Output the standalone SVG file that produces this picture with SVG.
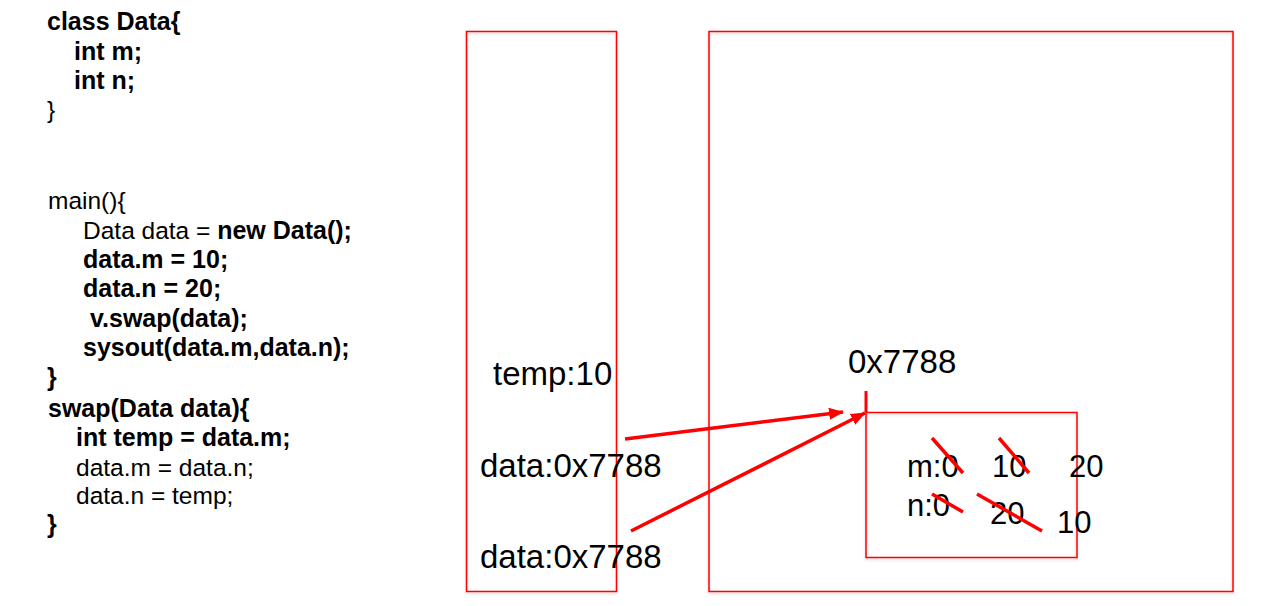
<svg xmlns="http://www.w3.org/2000/svg" width="1265" height="606" viewBox="0 0 1265 606">
<style>
.code{font-family:"Liberation Sans",Arial,sans-serif;font-size:24.5px;fill:#000}
.b{font-weight:bold;font-size:25px}
.lbl{font-family:"Liberation Sans",Arial,sans-serif;font-size:33px;fill:#000}
.val{font-family:"Liberation Sans",Arial,sans-serif;font-size:31px;fill:#000}
.box{fill:none;stroke:#ff0000;stroke-width:1.5}
.arr{stroke:#ff0000;stroke-width:3.5;fill:none}
.strike{stroke:#ff0000;stroke-width:3.5;fill:none}
</style>
<defs>
<marker id="ah" markerUnits="userSpaceOnUse" markerWidth="16" markerHeight="14" refX="14" refY="6" orient="auto">
<path d="M0,0 L15,6 L0,12 Z" fill="#ff0000"/>
</marker>
<filter id="sh" x="-5%" y="-5%" width="110%" height="110%">
<feDropShadow dx="0" dy="1.5" stdDeviation="1.5" flood-color="#000" flood-opacity="0.18"/>
</filter>
</defs>
<rect width="1265" height="606" fill="#fff"/>
<g id="code">
<text class="code b" x="47" y="30">class Data{</text>
<text class="code b" x="74" y="60">int m;</text>
<text class="code b" x="74" y="89">int n;</text>
<text class="code" x="47" y="118">}</text>
<text class="code" x="48" y="209">main(){</text>
<text class="code" x="83" y="239">Data data = <tspan class="b">new Data();</tspan></text>
<text class="code b" x="83" y="268">data.m = 10;</text>
<text class="code b" x="83" y="297">data.n = 20;</text>
<text class="code b" x="90" y="327">v.swap(data);</text>
<text class="code b" x="83" y="356">sysout(data.m,data.n);</text>
<text class="code b" x="47" y="386">}</text>
<text class="code b" x="48" y="417">swap(Data data){</text>
<text class="code b" x="76" y="446">int temp = data.m;</text>
<text class="code" x="76" y="476">data.m = data.n;</text>
<text class="code" x="76" y="504">data.n = temp;</text>
<text class="code b" x="47" y="533">}</text>
</g>
<g id="stack">
<rect class="box" x="466.5" y="31.5" width="150" height="560" filter="url(#sh)"/>
<text class="lbl" x="493" y="385">temp:10</text>
<text class="lbl" x="480" y="477">data:0x7788</text>
<text class="lbl" x="480" y="568">data:0x7788</text>
</g>
<g id="heap">
<rect class="box" x="709" y="31.5" width="524" height="560" filter="url(#sh)"/>
<text class="lbl" x="848" y="373">0x7788</text>
</g>
<g id="object">
<rect class="box" x="866" y="412.5" width="211" height="145" filter="url(#sh)"/>
<line x1="866" y1="391" x2="866" y2="412" stroke="#ff0000" stroke-width="3"/>
<text class="val" x="907" y="477">m:0</text>
<text class="val" x="992" y="477">10</text>
<text class="val" x="1069" y="477">20</text>
<text class="val" x="907" y="516">n:0</text>
<text class="val" x="990" y="524">20</text>
<text class="val" x="1057" y="533">10</text>
<line class="strike" x1="932" y1="438" x2="963" y2="473"/>
<line class="strike" x1="999" y1="438" x2="1029" y2="473"/>
<line class="strike" x1="932" y1="494" x2="963" y2="512"/>
<line class="strike" x1="977" y1="494" x2="1042" y2="531"/>
</g>
<g id="connectors">
<line class="arr" x1="625" y1="439" x2="843" y2="412" marker-end="url(#ah)"/>
<line class="arr" x1="631" y1="531" x2="865" y2="413" marker-end="url(#ah)"/>
</g>
</svg>
